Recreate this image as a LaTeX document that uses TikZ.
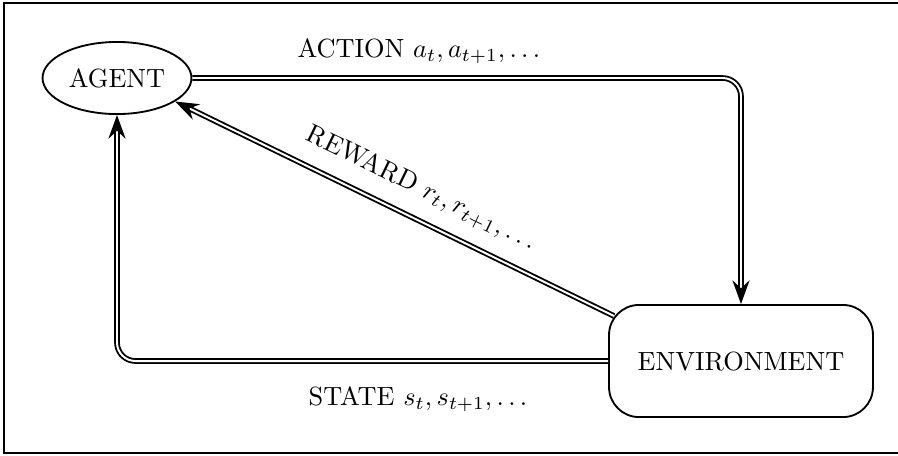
\documentclass[tikz,border=0pt]{standalone}
\usetikzlibrary{arrows.meta,shapes.geometric}
\begin{document}
\begin{tikzpicture}[x=0.38pt,y=-0.38pt,
  link/.style={double, double distance=0.75pt, line width=0.7pt,
    -{Stealth[length=9pt,width=6.5pt,inset=3pt]}, rounded corners=7pt},
  agentbox/.style={ellipse, draw, line width=0.7pt, minimum width=56.6pt, minimum height=27.4pt, inner sep=0pt},
  envbox/.style={rectangle, rounded corners=11.4pt, draw, line width=0.7pt, minimum width=100.3pt, minimum height=42.6pt, inner sep=0pt}]
  \useasboundingbox (0,0) rectangle (898,455);
  % outer frame (its right side lies just past the page edge)
  \draw[line width=0.7pt] (4,3) rectangle (901,453);

  \node[agentbox] (agent) at (117,78) {AGENT};
  \node[envbox] (env) at (741,361) {ENVIRONMENT};

  % action: agent -> environment
  \coordinate (acorner) at (741,78);
  \draw[link] (agent.east) -- (acorner) -- (env.north);
  \node (alabel) at (419,51) {ACTION $a_t, a_{t+1}, \ldots$};

  % state: environment -> agent
  \coordinate (scorner) at (117,361);
  \draw[link] (env.west) -- (scorner) -- (agent.south);
  \node (slabel) at (418,399) {STATE $s_t, s_{t+1}, \ldots$};

  % reward: environment -> agent
  \coordinate (rstart) at (614,316);
  \draw[link] (rstart) -- (agent.-22);
  \node[rotate=-25.9] (rlabel) at (421,189) {REWARD $r_t, r_{t+1}, \ldots$};
\end{tikzpicture}
\end{document}
